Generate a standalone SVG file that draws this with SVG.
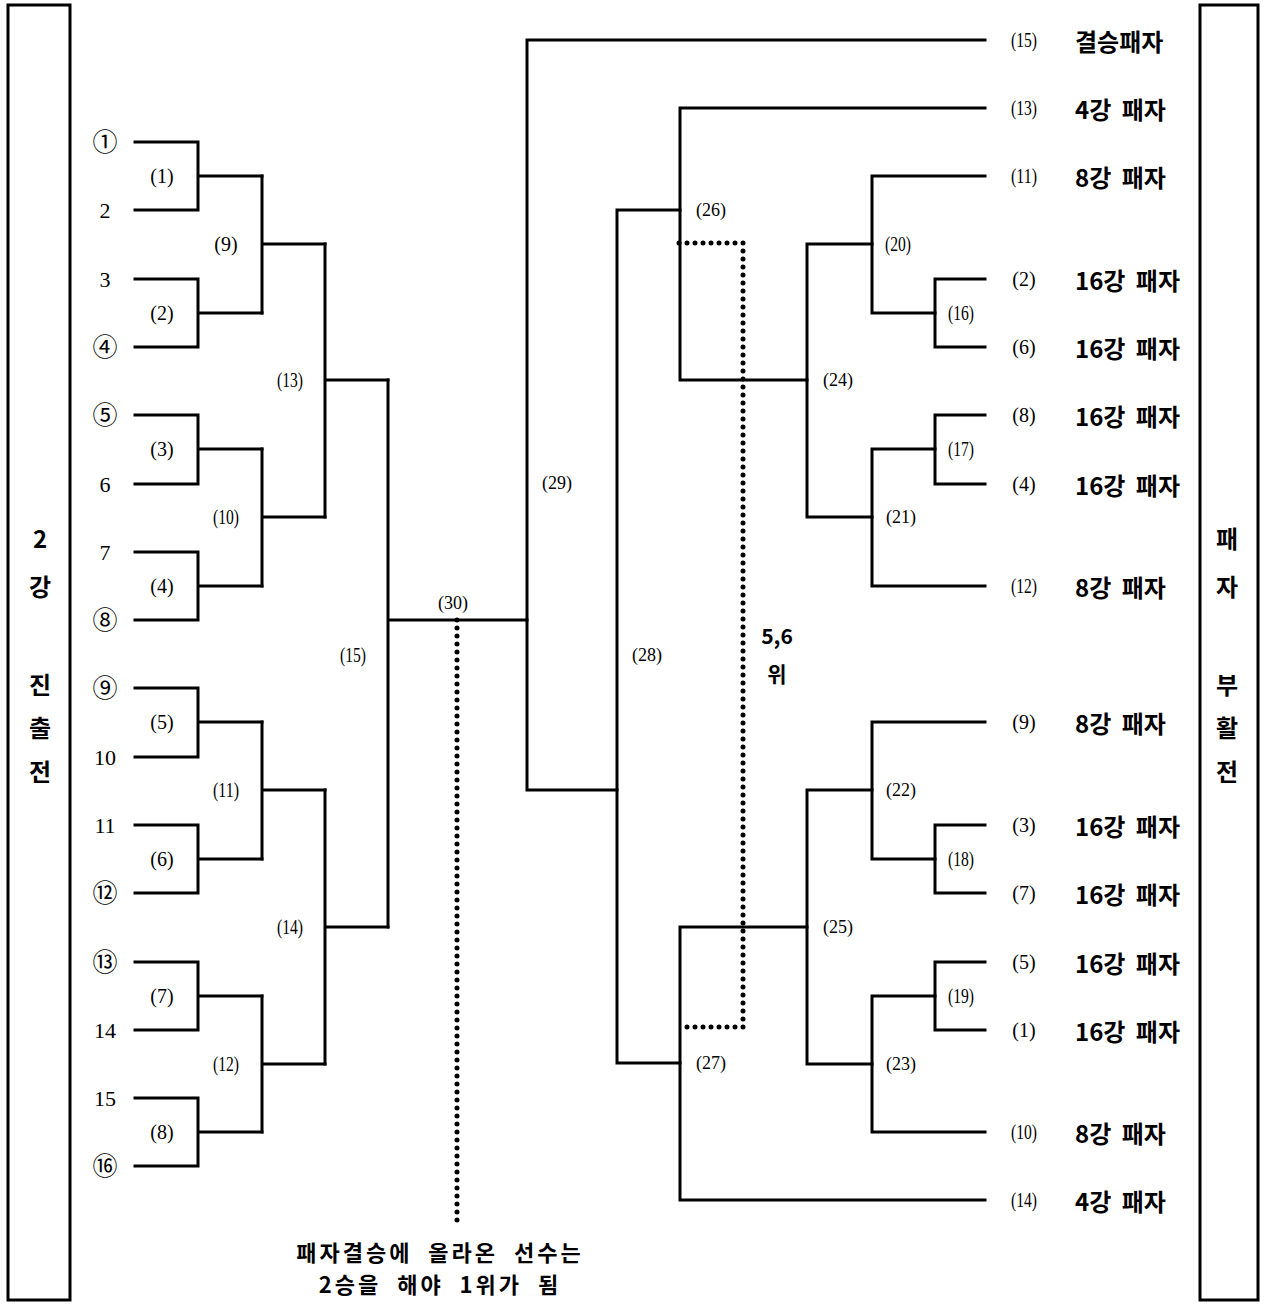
<svg xmlns="http://www.w3.org/2000/svg" width="1264" height="1304" viewBox="0 0 1264 1304">
<style>
.ln{fill:none;stroke:#000;stroke-width:3;stroke-linecap:square}
.dot{fill:none;stroke:#000;stroke-width:5;stroke-linecap:round;stroke-dasharray:0 8}
.box{fill:none;stroke:#000;stroke-width:3}
.num{font-family:"Liberation Serif","DejaVu Serif",serif;font-size:22px;text-anchor:middle;dominant-baseline:central}
.cir{font-family:"Noto Sans CJK KR","DejaVu Sans",sans-serif;font-size:25px;text-anchor:middle;dominant-baseline:central}
.m{font-family:"Liberation Serif","DejaVu Serif",serif;font-size:18px;text-anchor:middle;dominant-baseline:central}
.mc{font-family:"Liberation Serif","DejaVu Serif",serif;font-size:20px;text-anchor:middle;dominant-baseline:central}
.lb{font-family:"Noto Sans CJK KR",sans-serif;font-weight:bold;font-size:24px;word-spacing:5px;dominant-baseline:central}
.side{font-family:"Noto Sans CJK KR",sans-serif;font-weight:bold;font-size:24px;text-anchor:middle;dominant-baseline:central}
.note{font-family:"Noto Sans CJK KR",sans-serif;font-weight:bold;font-size:22px;letter-spacing:3px;word-spacing:8px;text-anchor:middle;dominant-baseline:central}
</style>
<rect width="1264" height="1304" fill="#fff"/>
<g id="left-box">
<rect class="box" x="8" y="5" width="62" height="1295"/>
<text class="side" x="40" y="537">2</text>
<text class="side" x="40" y="585">강</text>
<text class="side" x="40" y="683">진</text>
<text class="side" x="40" y="726">출</text>
<text class="side" x="40" y="770">전</text>
</g>
<g id="right-box">
<rect class="box" x="1200" y="5" width="58" height="1295"/>
<text class="side" x="1227" y="537">패</text>
<text class="side" x="1227" y="585">자</text>
<text class="side" x="1227" y="683">부</text>
<text class="side" x="1227" y="726">활</text>
<text class="side" x="1227" y="770">전</text>
</g>
<g id="connectors">
<path class="ln" d="M135 142H198V210H135M198 176H262"/>
<path class="ln" d="M135 279H198V347H135M198 313H262"/>
<path class="ln" d="M135 415H198V484H135M198 449H262"/>
<path class="ln" d="M135 552H198V620H135M198 586H262"/>
<path class="ln" d="M135 688H198V757H135M198 722H262"/>
<path class="ln" d="M135 825H198V893H135M198 859H262"/>
<path class="ln" d="M135 962H198V1030H135M198 996H262"/>
<path class="ln" d="M135 1098H198V1166H135M198 1132H262"/>
<path class="ln" d="M262 176V313M262 244H325"/>
<path class="ln" d="M262 449V586M262 517H325"/>
<path class="ln" d="M262 722V859M262 790H325"/>
<path class="ln" d="M262 996V1132M262 1064H325"/>
<path class="ln" d="M325 244V517M325 380H388"/>
<path class="ln" d="M325 790V1064M325 927H388"/>
<path class="ln" d="M388 380V927M388 620H527"/>
<path class="ln" d="M527 40V790M527 40H985M527 790H617"/>
<path class="ln" d="M617 210V1063M617 210H680M617 1063H680"/>
<path class="ln" d="M680 108V380M680 108H985M680 380H807"/>
<path class="ln" d="M680 927V1200M680 1200H985M680 927H807"/>
<path class="ln" d="M807 244V517M807 244H872M807 517H872"/>
<path class="ln" d="M872 176V313M872 176H985M872 313H935"/>
<path class="ln" d="M935 279V347M935 279H985M935 347H985"/>
<path class="ln" d="M872 449V586M872 586H985M872 449H935"/>
<path class="ln" d="M935 415V484M935 415H985M935 484H985"/>
<path class="ln" d="M807 790V1064M807 790H872M807 1064H872"/>
<path class="ln" d="M872 722V859M872 722H985M872 859H935"/>
<path class="ln" d="M935 825V893M935 825H985M935 893H985"/>
<path class="ln" d="M872 996V1132M872 1132H985M872 996H935"/>
<path class="ln" d="M935 962V1030M935 962H985M935 1030H985"/>
<path class="dot" d="M679 243H743V1027H679"/>
<path class="dot" d="M457 620V1228"/>
</g>
<g id="entrants">
<text class="cir" x="105" y="140">①</text>
<text class="num" x="105" y="210">2</text>
<text class="num" x="105" y="279">3</text>
<text class="cir" x="105" y="345">④</text>
<text class="cir" x="105" y="413">⑤</text>
<text class="num" x="105" y="484">6</text>
<text class="num" x="105" y="552">7</text>
<text class="cir" x="105" y="618">⑧</text>
<text class="cir" x="105" y="686">⑨</text>
<text class="num" x="105" y="757">10</text>
<text class="num" x="105" y="825">11</text>
<text class="cir" x="105" y="891">⑫</text>
<text class="cir" x="105" y="960">⑬</text>
<text class="num" x="105" y="1030">14</text>
<text class="num" x="105" y="1098">15</text>
<text class="cir" x="105" y="1164">⑯</text>
</g>
<g id="match-labels">
<text class="mc" x="162" y="176">(1)</text>
<text class="mc" x="162" y="313">(2)</text>
<text class="mc" x="162" y="449">(3)</text>
<text class="mc" x="162" y="586">(4)</text>
<text class="mc" x="162" y="722">(5)</text>
<text class="mc" x="162" y="859">(6)</text>
<text class="mc" x="162" y="996">(7)</text>
<text class="mc" x="162" y="1132">(8)</text>
<text class="mc" x="226" y="244">(9)</text>
<text class="mc" x="226" y="517" textLength="26" lengthAdjust="spacingAndGlyphs">(10)</text>
<text class="mc" x="226" y="790" textLength="26" lengthAdjust="spacingAndGlyphs">(11)</text>
<text class="mc" x="226" y="1064" textLength="26" lengthAdjust="spacingAndGlyphs">(12)</text>
<text class="mc" x="290" y="380" textLength="26" lengthAdjust="spacingAndGlyphs">(13)</text>
<text class="mc" x="290" y="927" textLength="26" lengthAdjust="spacingAndGlyphs">(14)</text>
<text class="mc" x="353" y="655" textLength="26" lengthAdjust="spacingAndGlyphs">(15)</text>
<text class="m" x="453" y="603">(30)</text>
<text class="m" x="557" y="483">(29)</text>
<text class="m" x="647" y="655">(28)</text>
<text class="m" x="711" y="210">(26)</text>
<text class="m" x="711" y="1063">(27)</text>
<text class="m" x="838" y="380">(24)</text>
<text class="m" x="838" y="927">(25)</text>
<text class="mc" x="898" y="244" textLength="26" lengthAdjust="spacingAndGlyphs">(20)</text>
<text class="m" x="901" y="517">(21)</text>
<text class="m" x="901" y="790">(22)</text>
<text class="m" x="901" y="1064">(23)</text>
<text class="mc" x="961" y="313" textLength="26" lengthAdjust="spacingAndGlyphs">(16)</text>
<text class="mc" x="961" y="449" textLength="26" lengthAdjust="spacingAndGlyphs">(17)</text>
<text class="mc" x="961" y="859" textLength="26" lengthAdjust="spacingAndGlyphs">(18)</text>
<text class="mc" x="961" y="996" textLength="26" lengthAdjust="spacingAndGlyphs">(19)</text>
</g>
<g id="losers">
<text class="mc" x="1024" y="40" textLength="26" lengthAdjust="spacingAndGlyphs">(15)</text>
<text class="mc" x="1024" y="108" textLength="26" lengthAdjust="spacingAndGlyphs">(13)</text>
<text class="mc" x="1024" y="176" textLength="26" lengthAdjust="spacingAndGlyphs">(11)</text>
<text class="mc" x="1024" y="279">(2)</text>
<text class="mc" x="1024" y="347">(6)</text>
<text class="mc" x="1024" y="415">(8)</text>
<text class="mc" x="1024" y="484">(4)</text>
<text class="mc" x="1024" y="586" textLength="26" lengthAdjust="spacingAndGlyphs">(12)</text>
<text class="mc" x="1024" y="722">(9)</text>
<text class="mc" x="1024" y="825">(3)</text>
<text class="mc" x="1024" y="893">(7)</text>
<text class="mc" x="1024" y="962">(5)</text>
<text class="mc" x="1024" y="1030">(1)</text>
<text class="mc" x="1024" y="1132" textLength="26" lengthAdjust="spacingAndGlyphs">(10)</text>
<text class="mc" x="1024" y="1200" textLength="26" lengthAdjust="spacingAndGlyphs">(14)</text>
<text class="lb" x="1075" y="40">결승패자</text>
<text class="lb" x="1075" y="108">4강 패자</text>
<text class="lb" x="1075" y="176">8강 패자</text>
<text class="lb" x="1075" y="279">16강 패자</text>
<text class="lb" x="1075" y="347">16강 패자</text>
<text class="lb" x="1075" y="415">16강 패자</text>
<text class="lb" x="1075" y="484">16강 패자</text>
<text class="lb" x="1075" y="586">8강 패자</text>
<text class="lb" x="1075" y="722">8강 패자</text>
<text class="lb" x="1075" y="825">16강 패자</text>
<text class="lb" x="1075" y="893">16강 패자</text>
<text class="lb" x="1075" y="962">16강 패자</text>
<text class="lb" x="1075" y="1030">16강 패자</text>
<text class="lb" x="1075" y="1132">8강 패자</text>
<text class="lb" x="1075" y="1200">4강 패자</text>
</g>
<g id="notes">
<text class="side" x="777" y="635" style="font-size:21px">5,6</text>
<text class="side" x="777" y="673" style="font-size:21px">위</text>
<text class="note" x="440" y="1251">패자결승에 올라온 선수는</text>
<text class="note" x="440" y="1283">2승을 해야 1위가 됨</text>
</g>
</svg>
